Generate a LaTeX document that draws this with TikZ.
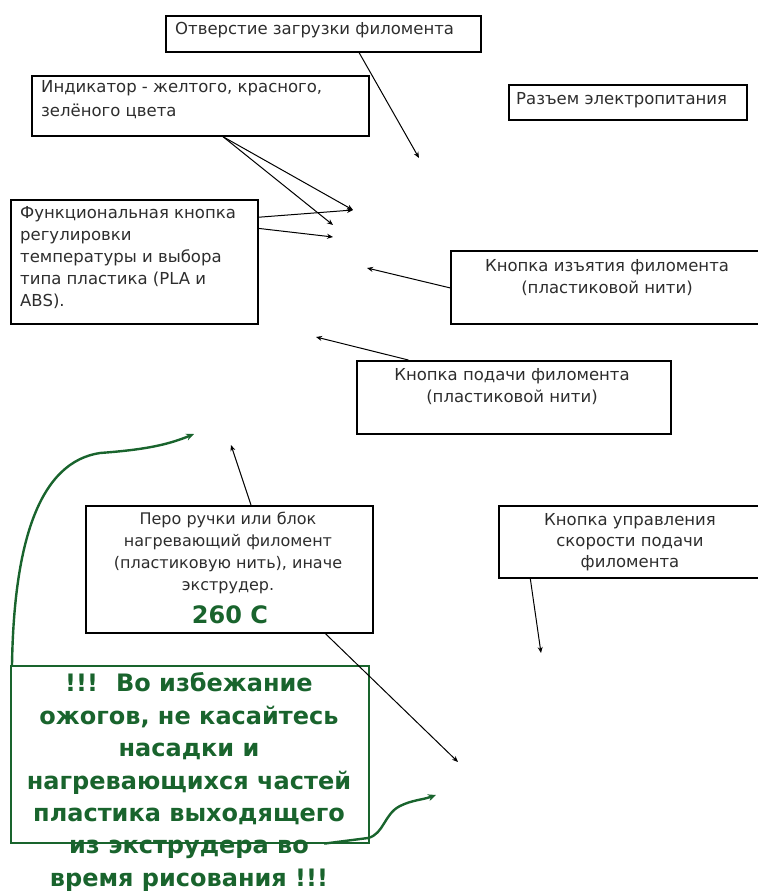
\documentclass[tikz,border=0pt]{standalone}
\usepackage{fontspec}
\setmainfont{DejaVu Sans}
\usetikzlibrary{arrows.meta,calc}
\definecolor{dgreen}{RGB}{25,100,45}
\definecolor{txtgray}{RGB}{45,45,45}
\begin{document}
\begin{tikzpicture}[x=1pt,y=-1pt,
  box/.style={draw=black, line width=1.7pt, inner sep=0pt, anchor=north west},
  gbox/.style={draw=dgreen, line width=1.6pt, inner sep=0pt, anchor=north west},
  txt/.style={inner sep=0pt, text=txtgray, font=\fontsize{16.5}{22}\selectfont},
  gtxt/.style={inner sep=0pt, text=dgreen, font=\bfseries\fontsize{24}{32.4}\selectfont, align=center},
  arr/.style={draw=black, line width=1pt, -{Stealth[length=6pt,width=5pt]}},
  garr/.style={draw=dgreen, line width=2.4pt, -{Stealth[length=8pt,width=7pt]}}]
\useasboundingbox (0,0) rectangle (757,893);
% boxes
\node[box, minimum width=315pt, minimum height=36pt] (b1) at (165,15) {};
\node[box, minimum width=337pt, minimum height=60pt] (b2) at (31,75) {};
\node[box, minimum width=238pt, minimum height=35pt] (b3) at (508,84) {};
\node[box, minimum width=247pt, minimum height=124pt] (b4) at (10,199) {};
\node[box, minimum width=309pt, minimum height=73pt] (b5) at (450,250) {};
\node[box, minimum width=314pt, minimum height=73pt] (b6) at (356,360) {};
\node[box, minimum width=287pt, minimum height=127pt] (b7) at (85,505) {};
\node[box, minimum width=261pt, minimum height=72pt] (b8) at (498,505) {};
\node[gbox, minimum width=358pt, minimum height=177pt] (bg) at (10,665) {};
% texts
\node[txt, anchor=west] (t1) at (175,30) {Отверстие загрузки филомента};
\node[txt, anchor=west, align=left, font=\fontsize{16.5}{24}\selectfont] (t2) at (41,100) {Индикатор - желтого, красного,\\зелёного цвета};
\node[txt, anchor=west] (t3) at (516,100) {Разъем электропитания};
\node[txt, anchor=west, align=left] (t4) at (20,258) {Функциональная кнопка\\регулировки\\температуры и выбора\\типа пластика (PLA и\\ABS).};
\node[txt, align=center] (t5) at (607,278) {Кнопка изъятия филомента\\(пластиковой нити)};
\node[txt, align=center] (t6) at (512,387) {Кнопка подачи филомента\\(пластиковой нити)};
\node[txt, align=center, font=\fontsize{16}{22}\selectfont] (t7) at (228,553) {Перо ручки или блок\\нагревающий филомент\\(пластиковую нить), иначе\\экструдер.};
\node[inner sep=0pt, text=dgreen, font=\bfseries\fontsize{24}{28}\selectfont] (t7b) at (230,615) {260 C};
\node[txt, align=center, font=\fontsize{16.5}{21}\selectfont] (t8) at (630,542) {Кнопка управления\\скорости подачи\\филомента};
\node[gtxt] (tg) at (189,782) {!!!\hspace{18pt}Во избежание\\ожогов, не касайтесь\\насадки и\\нагревающихся частей\\пластика выходящего\\из экструдера во\\время рисования !!!};
% free ends
\coordinate (e1) at (419,158);
\coordinate (e2) at (353,210);
\coordinate (e3) at (333,225);
\coordinate (e5) at (333,237);
\coordinate (e6) at (367,268);
\coordinate (e7) at (316,337);
\coordinate (e8) at (231,445);
\coordinate (e9) at (458,762);
\coordinate (e10) at (541,653);
\coordinate (eg1) at (194,434);
\coordinate (eg2) at (436,795);
% connectors
\draw[arr] ($(b1.south west)!0.613!(b1.south east)$) -- (e1);
\draw[arr] ($(b2.south west)!0.567!(b2.south east)$) -- (e2);
\draw[arr] ($(b2.south west)!0.567!(b2.south east)$) -- (e3);
\draw[arr] ($(b4.north east)!0.145!(b4.south east)$) -- (e2);
\draw[arr] ($(b4.north east)!0.234!(b4.south east)$) -- (e5);
\draw[arr] ($(b5.north west)!0.507!(b5.south west)$) -- (e6);
\draw[arr] ($(b6.north west)!0.166!(b6.north east)$) -- (e7);
\draw[arr] ($(b7.north west)!0.575!(b7.north east)$) -- (e8);
\draw[arr] ($(b7.south west)!0.833!(b7.south east)$) -- (e9);
\draw[arr] ($(b8.south west)!0.123!(b8.south east)$) -- (e10);
\draw[garr] ($(bg.north west)+(2,0)$) .. controls (14,540) and (40,462) .. (100,453) .. controls (140,450) and (165,446) .. (eg1);
\draw[garr] ($(bg.south west)!0.874!(bg.south east)$) -- (368,838) .. controls (384,834) and (384,814) .. (400,806) .. controls (412,800) and (422,800) .. (eg2);
\end{tikzpicture}
\end{document}
